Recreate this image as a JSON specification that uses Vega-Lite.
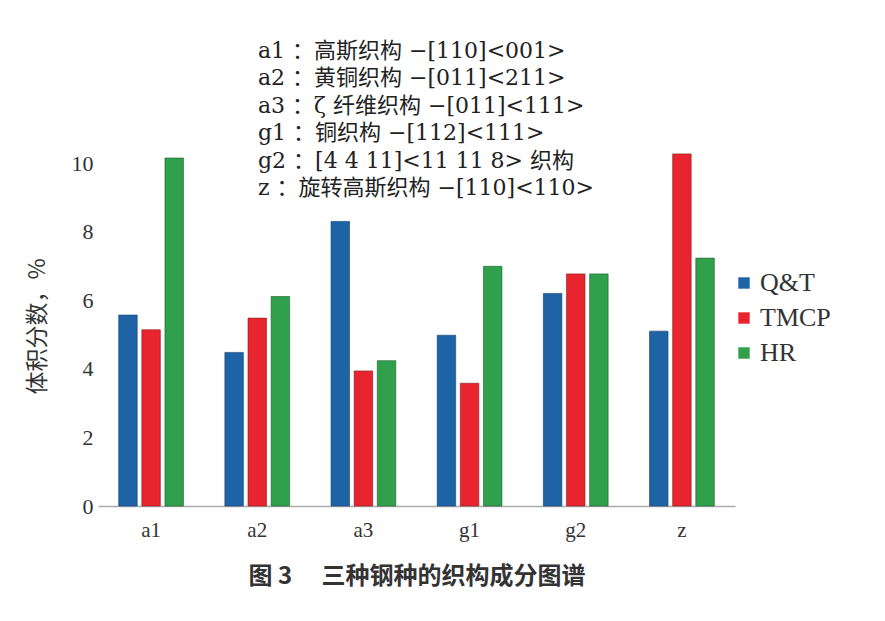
{
  "$schema": "https://vega.github.io/schema/vega-lite/v6.json",
  "width": 637,
  "height": 360,
  "autosize": {"type": "none"},
  "padding": {"left": 98, "top": 146, "right": 150, "bottom": 115},
  "background": "white",
  "title": {
    "text": [
      "a1 ：高斯织构 −[110]<001>",
      "a2 ：黄铜织构 −[011]<211>",
      "a3 ：ζ  纤维织构 −[011]<111>",
      "g1 ：铜织构 −[112]<111>",
      "g2 ：[4 4 11]<11 11 8> 织构",
      "z ：旋转高斯织构 −[110]<110>"
    ],
    "anchor": "start",
    "frame": "group",
    "dx": 160,
    "offset": -54,
    "font": "'DejaVu Serif', 'Noto Sans CJK SC', serif",
    "fontSize": 22,
    "fontWeight": "normal",
    "lineHeight": 27.5,
    "color": "#222222"
  },
  "data": {
    "values": [
      {"texture": "a1", "steel": "Q&T", "fraction": 5.57},
      {"texture": "a1", "steel": "TMCP", "fraction": 5.14},
      {"texture": "a1", "steel": "HR", "fraction": 10.15},
      {"texture": "a2", "steel": "Q&T", "fraction": 4.48},
      {"texture": "a2", "steel": "TMCP", "fraction": 5.48},
      {"texture": "a2", "steel": "HR", "fraction": 6.11},
      {"texture": "a3", "steel": "Q&T", "fraction": 8.3},
      {"texture": "a3", "steel": "TMCP", "fraction": 3.94},
      {"texture": "a3", "steel": "HR", "fraction": 4.24},
      {"texture": "g1", "steel": "Q&T", "fraction": 4.98},
      {"texture": "g1", "steel": "TMCP", "fraction": 3.58},
      {"texture": "g1", "steel": "HR", "fraction": 6.99},
      {"texture": "g2", "steel": "Q&T", "fraction": 6.2},
      {"texture": "g2", "steel": "TMCP", "fraction": 6.77},
      {"texture": "g2", "steel": "HR", "fraction": 6.77},
      {"texture": "z", "steel": "Q&T", "fraction": 5.1},
      {"texture": "z", "steel": "TMCP", "fraction": 10.27},
      {"texture": "z", "steel": "HR", "fraction": 7.23}
    ]
  },
  "mark": {"type": "bar", "strokeWidth": 1, "strokeOpacity": 0.6},
  "encoding": {
    "x": {
      "field": "texture",
      "type": "nominal",
      "sort": ["a1", "a2", "a3", "g1", "g2", "z"],
      "scale": {"paddingInner": 0.39, "paddingOuter": 0.195},
      "title": "图 3　 三种钢种的织构成分图谱",
      "axis": {
        "labelAngle": 0,
        "ticks": false,
        "domainColor": "#aaaaaa",
        "domainWidth": 1.5,
        "labelFont": "Liberation Serif",
        "labelFontSize": 21,
        "labelColor": "#333333",
        "labelPadding": 13,
        "titleFont": "Noto Sans CJK SC",
        "titleFontSize": 24,
        "titleFontWeight": "bold",
        "titleColor": "#333333",
        "titlePadding": 24
      }
    },
    "xOffset": {
      "field": "steel",
      "type": "nominal",
      "sort": ["Q&T", "TMCP", "HR"],
      "scale": {"paddingInner": 0.2}
    },
    "y": {
      "field": "fraction",
      "type": "quantitative",
      "scale": {"domain": [0, 10.5], "nice": false},
      "title": "体积分数，%",
      "axis": {
        "values": [0, 2, 4, 6, 8, 10],
        "grid": false,
        "domain": false,
        "ticks": false,
        "labelFont": "Liberation Serif",
        "labelFontSize": 22,
        "labelColor": "#333333",
        "labelPadding": 5,
        "titleFont": "Noto Sans CJK SC",
        "titleFontSize": 23,
        "titleFontWeight": "normal",
        "titleColor": "#333333",
        "titlePadding": 22
      }
    },
    "color": {
      "field": "steel",
      "type": "nominal",
      "sort": ["Q&T", "TMCP", "HR"],
      "scale": {
        "domain": ["Q&T", "TMCP", "HR"],
        "range": ["#1f63a7", "#e8242f", "#31a04d"]
      },
      "legend": {
        "title": null,
        "orient": "none",
        "legendX": 633,
        "legendY": 124,
        "symbolType": "square",
        "symbolSize": 130,
        "symbolStrokeWidth": 0,
        "labelFont": "Liberation Serif",
        "labelFontSize": 26,
        "labelColor": "#333333",
        "labelOffset": 3,
        "rowPadding": 9
      }
    },
    "stroke": {
      "field": "steel",
      "type": "nominal",
      "sort": ["Q&T", "TMCP", "HR"],
      "scale": {
        "domain": ["Q&T", "TMCP", "HR"],
        "range": ["#123f70", "#8a1a20", "#1d5e2e"]
      },
      "legend": null
    }
  },
  "config": {
    "view": {"stroke": null}
  }
}
